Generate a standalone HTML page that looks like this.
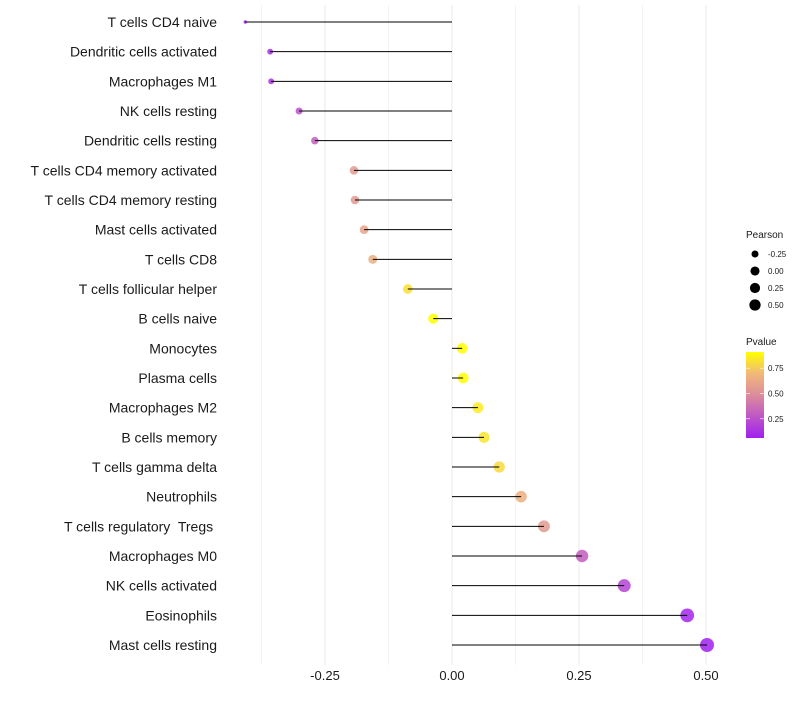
<!DOCTYPE html>
<html><head><meta charset="utf-8"><style>
body{margin:0;background:#fff}
svg text{font-family:"Liberation Sans",sans-serif;white-space:pre}
</style></head><body>
<svg id="chart" width="800" height="700" xmlns="http://www.w3.org/2000/svg">
<g id="grid"></g>
<g id="marks"></g>
<g id="ylab"></g>
<g id="xlab"></g>
<g id="legend"></g>
</svg>
<script>
const categories=["T cells CD4 naive","Dendritic cells activated","Macrophages M1","NK cells resting","Dendritic cells resting","T cells CD4 memory activated","T cells CD4 memory resting","Mast cells activated","T cells CD8","T cells follicular helper","B cells naive","Monocytes","Plasma cells","Macrophages M2","B cells memory","T cells gamma delta","Neutrophils","T cells regulatory  Tregs ","Macrophages M0","NK cells activated","Eosinophils","Mast cells resting"];
const pearson=[-0.407,-0.358,-0.356,-0.301,-0.270,-0.193,-0.191,-0.173,-0.156,-0.087,-0.037,0.020,0.022,0.051,0.063,0.093,0.136,0.181,0.256,0.339,0.463,0.502];
const pvalue=[0.07,0.12,0.13,0.25,0.30,0.55,0.55,0.60,0.65,0.82,0.92,0.93,0.92,0.85,0.83,0.80,0.65,0.55,0.30,0.20,0.08,0.06];
const xTicks=[-0.25,0,0.25,0.5];
const xTickLabels=["-0.25","0.00","0.25","0.50"];
const sizeBreaks=[-0.25,0,0.25,0.5];
const sizeLabels=["-0.25","0.00","0.25","0.50"];
const pBreaks=[0.25,0.5,0.75];
const pLabels=["0.25","0.50","0.75"];

const NS="http://www.w3.org/2000/svg";
const x=v=>452+v*508;
const y=i=>22+i*(623/21);
const pMin=0.06,pMax=0.91;
const stops=[[0,[160,32,240]],[0.5,[220,140,155]],[0.75,[240,185,120]],[1,[255,255,0]]];
function col(p){let t=Math.max(0,Math.min(1,(p-pMin)/(pMax-pMin)));
 for(let k=1;k<stops.length;k++){if(t<=stops[k][0]){const a=stops[k-1],b=stops[k];const f=(t-a[0])/(b[0]-a[0]);
 return "rgb("+a[1].map((c,j)=>Math.round(c+(b[1][j]-c)*f)).join(",")+")";}}return "rgb(255,255,0)";}
const rad=v=>1.7+5.3*Math.sqrt(Math.max(0,(v+0.407)/0.909));
function mk(tag,attrs,parent){const e=document.createElementNS(NS,tag);for(const k in attrs)e.setAttribute(k,attrs[k]);parent.appendChild(e);return e;}
const grid=document.getElementById('grid'),marks=document.getElementById('marks'),ylab=document.getElementById('ylab'),xlab=document.getElementById('xlab'),leg=document.getElementById('legend');
for(let v=-0.375;v<=0.5001;v+=0.125){const g=mk('line',{x1:x(v),x2:x(v),y1:5,y2:665,stroke:'#ebebeb','stroke-width':(Math.abs(v*4-Math.round(v*4))<1e-6)?1.1:0.6},grid);

}
categories.forEach((c,i)=>{
 const pt=mk('circle',{cx:x(pearson[i]),cy:y(i),r:rad(pearson[i]),fill:col(pvalue[i]),'fill-opacity':0.85},marks);
 
 
 const ln=mk('line',{x1:x(0),x2:x(pearson[i]),y1:y(i),y2:y(i),stroke:'#000','stroke-width':1},marks);
 
 
 const t=mk('text',{x:217,y:y(i)+5,'text-anchor':'end','font-size':14,fill:'#1a1a1a'},ylab);t.textContent=c;
 
 
});
xTicks.forEach((v,i)=>{const t=mk('text',{x:x(v),y:680,'text-anchor':'middle','font-size':13,fill:'#1a1a1a'},xlab);t.textContent=xTickLabels[i];
 
 });
let t=mk('text',{x:746,y:238,'font-size':10,fill:'#1a1a1a'},leg);t.textContent="Pearson";


sizeBreaks.forEach((v,i)=>{const cy=254+i*17;const c=mk('circle',{cx:755,cy:cy,r:3.5+i*0.55+(i?0.5:0),fill:'#000'},leg);
 
 
 const l=mk('text',{x:768,y:cy+3,'font-size':8,fill:'#1a1a1a'},leg);l.textContent=sizeLabels[i];
 
 });
t=mk('text',{x:746,y:345,'font-size':10,fill:'#1a1a1a'},leg);t.textContent="Pvalue";


const defs=mk('defs',{},leg);const gr=mk('linearGradient',{id:'pg',x1:0,y1:1,x2:0,y2:0},defs);
stops.forEach(s=>mk('stop',{offset:s[0],'stop-color':'rgb('+s[1].join(',')+')'},gr));
const bar=mk('rect',{x:746,y:352,width:18,height:86,fill:'url(#pg)'},leg);


pBreaks.forEach((p,i)=>{const yy=438-(p-pMin)/(pMax-pMin)*86;
 mk('line',{x1:746,x2:750,y1:yy,y2:yy,stroke:'#fff','stroke-width':0.6},leg);mk('line',{x1:760,x2:764,y1:yy,y2:yy,stroke:'#fff','stroke-width':0.6},leg);
 const l=mk('text',{x:768,y:yy+3,'font-size':8,fill:'#1a1a1a'},leg);l.textContent=pLabels[i];
 
 });
</script>
</body></html>
